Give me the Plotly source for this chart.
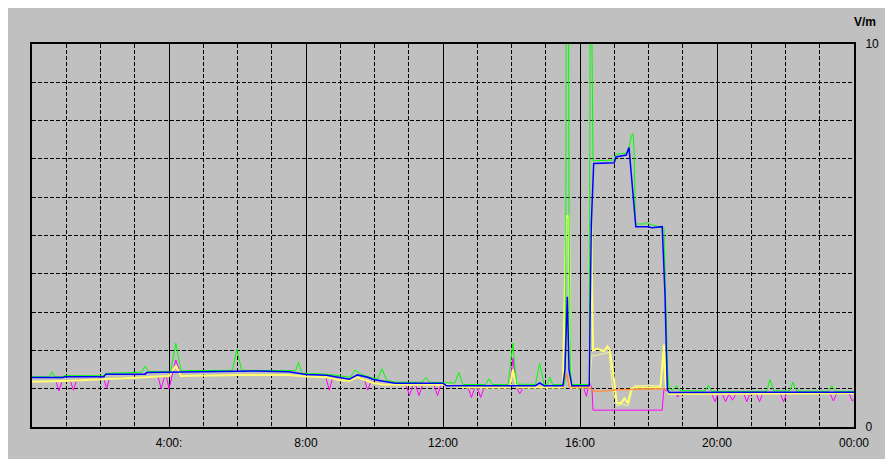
import plotly.graph_objects as go

# ---- data (hours of day, V/m) ----
blue_t = [0.0, 0.9, 0.95, 2.1, 2.15, 3.3, 3.35, 6.5, 7.5, 8.0, 8.6, 9.0, 9.27, 9.5, 9.8, 9.97, 10.3, 10.6,
          12.0, 12.1, 14.7, 14.82, 14.95, 15.5, 15.56, 15.63, 15.68, 15.76, 16.27, 16.33, 16.4, 17.0, 17.05,
          17.35, 17.43, 17.5, 17.58, 17.63, 18.0, 18.1, 18.4, 18.48, 18.55, 18.6, 24.0]
blue_v = [1.29, 1.29, 1.31, 1.31, 1.38, 1.38, 1.42, 1.46, 1.44, 1.37, 1.35, 1.30, 1.25, 1.36, 1.30, 1.24, 1.18, 1.14,
          1.14, 1.08, 1.08, 1.15, 1.08, 1.08, 1.49, 3.4, 1.49, 1.08, 1.08, 5.3, 6.88, 6.9, 7.05,
          7.1, 7.3, 6.5, 5.6, 5.23, 5.23, 5.2, 5.23, 3.5, 0.98, 0.9, 0.91]

green_t = [0.0, 0.5, 0.58, 0.66, 0.9, 0.95, 2.1, 2.15, 3.2, 3.3, 3.4, 4.05, 4.2, 4.35, 5.85, 5.98, 6.12, 7.5,
           7.7, 7.78, 7.88, 8.6, 9.0, 9.3, 9.43, 9.6, 9.97, 10.1, 10.22, 10.35, 10.6, 11.4, 11.5, 11.6, 12.35,
           12.46, 12.58, 13.25, 13.34, 13.45, 13.9, 14.04, 14.15, 14.7, 14.82, 14.95, 15.05, 15.12, 15.2, 15.55,
           15.58, 15.6, 15.66, 15.68, 15.72, 15.76, 16.27, 16.3, 16.33, 16.38, 17.0, 17.05, 17.35, 17.43, 17.5,
           17.55, 17.58, 17.62, 17.9, 17.95, 18.0, 18.45, 18.5, 18.56, 18.6, 18.7, 18.82, 18.92, 19.65, 19.75,
           19.85, 21.45, 21.55, 21.65, 22.12, 22.22, 22.32, 23.25, 23.35, 23.45, 24.0]
green_v = [1.31, 1.31, 1.44, 1.31, 1.31, 1.34, 1.34, 1.40, 1.43, 1.59, 1.45, 1.45, 2.19, 1.47, 1.48, 2.03, 1.48, 1.47,
           1.47, 1.70, 1.40, 1.38, 1.33, 1.30, 1.49, 1.38, 1.27, 1.27, 1.52, 1.22, 1.17, 1.17, 1.30, 1.17, 1.15,
           1.43, 1.11, 1.11, 1.26, 1.11, 1.11, 2.19, 1.12, 1.11, 1.67, 1.11, 1.11, 1.30, 1.11, 1.11,
           2.5, 12.0, 12.0, 5.6, 1.5, 1.11, 1.11, 12.0, 12.0, 6.95, 6.97, 7.12, 7.15, 7.3, 7.6,
           7.66, 7.2, 5.3, 5.3, 5.35, 5.3, 5.2, 3.4, 1.4, 1.02, 0.95, 1.08, 0.95, 0.94, 1.09,
           0.93, 0.93, 1.24, 0.95, 0.94, 1.17, 0.94, 0.93, 1.08, 0.93, 0.93]

magenta_t = [0.0, 0.7, 0.79, 0.88, 1.12, 1.21, 1.3, 2.1, 2.18, 2.26, 3.68, 3.77, 3.87, 3.92, 4.0, 4.08, 4.2, 4.35,
             6.0, 7.5, 8.0, 8.58, 8.68, 8.78, 9.0, 9.27, 9.5, 9.7, 9.8, 9.9, 9.97, 10.3, 10.92, 11.02, 11.12, 11.2,
             11.3, 11.4, 11.74, 11.84, 11.94, 12.73,
             12.83, 12.93, 13.0, 13.1, 13.2, 13.95, 14.04, 14.14, 14.24, 14.34, 15.5, 15.6, 15.7, 16.1, 16.19,
             16.27, 16.35, 16.38, 18.4, 18.45, 18.6, 18.8, 18.85, 18.9, 19.85, 19.94, 20.03, 20.16, 20.25, 20.35,
             20.45, 20.55, 20.78, 20.87, 20.96, 21.15, 21.24, 21.33, 21.85, 21.94, 22.03, 23.3, 23.4, 23.5, 23.85,
             23.95, 24.0]
magenta_v = [1.18, 1.19, 0.94, 1.20, 1.21, 0.96, 1.22, 1.25, 1.01, 1.26, 1.32, 1.0, 1.32, 1.33, 1.0, 1.33, 1.75, 1.33,
             1.36, 1.36, 1.32, 1.30, 0.96, 1.29, 1.22, 1.20, 1.30, 1.25, 0.96, 1.20, 1.15, 1.10, 1.10, 0.82, 1.10, 1.10,
             0.82, 1.10, 1.10, 0.82, 1.10, 1.03,
             0.77, 1.03, 1.03, 0.77, 1.03, 1.03, 1.8, 1.03, 0.87, 1.03, 1.03, 1.4, 1.03, 1.03, 0.8,
             1.2, 1.0, 0.44, 0.44, 1.0, 0.86, 0.86, 0.78, 0.86, 0.86, 0.66, 0.86, 0.86, 0.66, 0.86,
             0.70, 0.86, 0.87, 0.66, 0.87, 0.87, 0.66, 0.87, 0.87, 0.66, 0.87, 0.88, 0.68, 0.88, 0.88,
             0.68, 0.72]

yellow_t = [0.0, 0.9, 2.1, 3.3, 4.0, 4.2, 4.35, 6.0, 7.5, 8.0, 8.6, 9.0, 9.27, 9.5, 9.97, 10.3, 12.0, 12.7, 13.95,
            14.04, 14.15, 15.5, 15.6, 15.68, 15.72, 16.27, 16.33, 16.38, 16.5, 16.7, 16.8, 16.87, 17.0, 17.07,
            17.2, 17.3, 17.4, 17.5, 17.6, 18.35, 18.45, 18.52, 18.6, 24.0]
yellow_v = [1.18, 1.20, 1.25, 1.30, 1.33, 1.6, 1.33, 1.36, 1.36, 1.32, 1.30, 1.22, 1.20, 1.30, 1.15, 1.10, 1.10, 1.03, 1.03,
            1.5, 1.03, 1.03, 5.5, 5.5, 1.03, 1.03, 5.2, 2.0, 2.05, 1.98, 2.1, 2.0, 1.2, 0.63,
            0.62, 0.75, 0.62, 1.0, 1.03, 1.04, 2.15, 1.0, 0.86, 0.88]

pale_t = [16.27, 16.35, 16.4, 16.6, 16.85, 16.95, 17.08, 17.25, 17.4, 17.5, 17.6, 18.35, 18.42, 18.5, 18.6]
pale_v = [1.03, 1.9, 1.85, 1.9, 1.95, 1.0, 0.55, 0.6, 0.55, 0.9, 1.08, 1.08, 1.9, 1.0, 0.9]

orange_t = [15.5, 15.6, 15.7, 16.2, 16.3, 16.45, 16.7, 17.1, 18.4, 18.5, 18.55]
orange_v = [1.05, 1.4, 1.05, 1.05, 1.0, 0.93, 0.94, 0.97, 1.0, 1.0, 0.95]

tick_vals = [4, 8, 12, 16, 20, 24]
tick_text = ["4:00:", "8:00", "12:00", "16:00", "20:00", "00:00"]

BG = "#c0c0c0"
fig = go.Figure()
fig.add_trace(go.Scatter(x=magenta_t, y=magenta_v, mode="lines", line=dict(color="#ff00ff", width=1)))
fig.add_trace(go.Scatter(x=pale_t, y=pale_v, mode="lines", line=dict(color="#f4f49a", width=1)))
fig.add_trace(go.Scatter(x=yellow_t, y=yellow_v, mode="lines", line=dict(color="#ffff70", width=2)))
fig.add_trace(go.Scatter(x=orange_t, y=orange_v, mode="lines", line=dict(color="#ff9040", width=1.5)))
fig.add_trace(go.Scatter(x=green_t, y=green_v, mode="lines", line=dict(color="#00ff00", width=1)))
fig.add_trace(go.Scatter(x=blue_t, y=blue_v, mode="lines", line=dict(color="#0000ff", width=1.5)))

font = dict(family="Liberation Sans, Arial, sans-serif", size=12, color="black")
fig.update_layout(
    width=893, height=459,
    margin=dict(l=24, r=47, t=36, b=40, autoexpand=False),
    paper_bgcolor=BG, plot_bgcolor=BG,
    showlegend=False,
    font=font,
    xaxis=dict(range=[0, 24], tickmode="array", tickvals=tick_vals, ticktext=tick_text,
               showgrid=True, gridcolor="black", gridwidth=1, zeroline=False, automargin=False,
               showline=True, mirror=True, linecolor="black", linewidth=2,
               ticks="", ticklabelstandoff=4, tickfont=font,
               minor=dict(tickmode="linear", tick0=0, dtick=1, showgrid=True, gridcolor="black",
                          gridwidth=1, griddash="4px,2px", ticks="")),
    yaxis=dict(range=[0, 10], side="right", tickmode="array", tickvals=[0, 10], ticktext=["0", "10"],
               showgrid=False, zeroline=False, automargin=False,
               showline=True, mirror=True, linecolor="black", linewidth=2,
               ticks="", ticklabelstandoff=7, tickfont=font,
               minor=dict(tickmode="linear", tick0=0, dtick=1, showgrid=True, gridcolor="black",
                          gridwidth=1, griddash="4px,2px", ticks="")),
    annotations=[dict(text="<b>V/m</b>", x=1.0134, y=1.057, xref="paper", yref="paper",
                      showarrow=False, xanchor="center", yanchor="middle",
                      font=dict(family="Liberation Sans, Arial, sans-serif", size=12, color="black"))],
)
fig.write_html("out.html")
